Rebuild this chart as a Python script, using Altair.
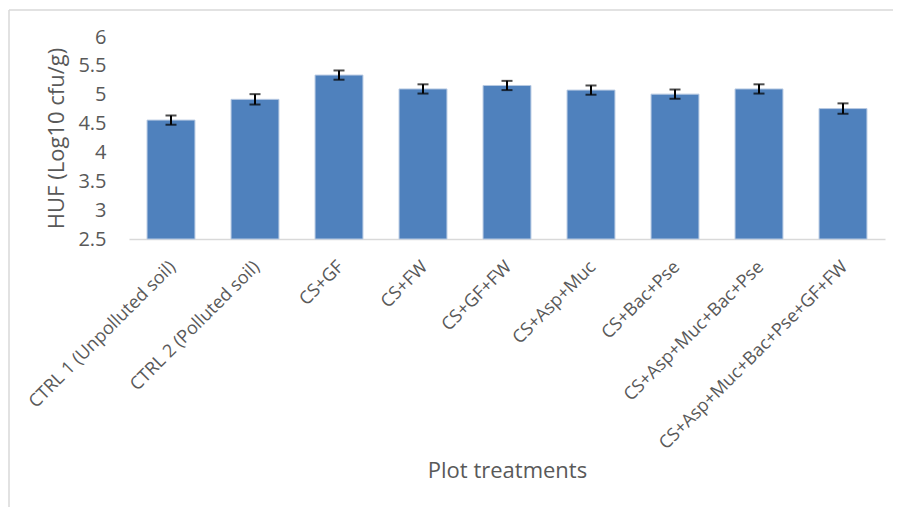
import altair as alt
import pandas as pd

treatments = [
    "CTRL 1 (Unpolluted soil)",
    "CTRL 2 (Polluted soil)",
    "CS+GF",
    "CS+FW",
    "CS+GF+FW",
    "CS+Asp+Muc",
    "CS+Bac+Pse",
    "CS+Asp+Muc+Bac+Pse",
    "CS+Asp+Muc+Bac+Pse+GF+FW",
]
huf = [4.56, 4.92, 5.34, 5.10, 5.16, 5.08, 5.01, 5.10, 4.76]
err = [0.08, 0.09, 0.08, 0.08, 0.08, 0.08, 0.08, 0.08, 0.09]

df = pd.DataFrame({"t": treatments, "v": huf, "e": err})
df["lo"] = df["v"] - df["e"]
df["hi"] = df["v"] + df["e"]

FONT = "Open Sans"
GRAY = "#595959"

x_scale = alt.Scale(paddingInner=0.43, paddingOuter=0.215)
x_axis = alt.Axis(
    title="Plot treatments",
    titleFont=FONT,
    titleFontSize=22,
    titleFontWeight="normal",
    titleColor=GRAY,
    titleBaseline="alphabetic",
    titleY=238,
    labelAngle=-45,
    labelAlign="right",
    labelBaseline="middle",
    labelFont=FONT,
    labelFontSize=18,
    labelColor=GRAY,
    labelPadding=25,
    labelOffset=2,
    labelLimit=400,
    labelOverlap=False,
    ticks=False,
    domainColor="#D9D9D9",
    domainWidth=1.5,
    grid=False,
)
x_enc = alt.X("t:N", sort=treatments, scale=x_scale, axis=x_axis)

y_scale = alt.Scale(domain=[2.5, 6], zero=False, nice=False)
y_axis = alt.Axis(
    title="HUF (Log10 cfu/g)",
    titleFont=FONT,
    titleFontSize=22,
    titleFontWeight="normal",
    titleColor=GRAY,
    titlePadding=9,
    values=[2.5, 3, 3.5, 4, 4.5, 5, 5.5, 6],
    format=".1~f",
    labelFont=FONT,
    labelFontSize=20,
    labelColor=GRAY,
    labelPadding=23,
    labelOverlap=False,
    labelFlush=False,
    labelBound=False,
    ticks=False,
    domain=False,
    grid=False,
)

base = alt.Chart(df)

bars = base.mark_bar(color="#4F81BD", stroke="#B7C9E2", strokeWidth=1).encode(
    x=x_enc,
    y=alt.Y("v:Q", scale=y_scale, axis=y_axis),
    y2=alt.datum(2.5),
)

rules = base.mark_rule(color="black", strokeWidth=2).encode(
    x=x_enc,
    y=alt.Y("lo:Q", scale=y_scale, axis=y_axis),
    y2="hi:Q",
)

cap_lo = base.mark_tick(color="black", thickness=2, size=11, orient="horizontal").encode(
    x=x_enc,
    y=alt.Y("lo:Q", scale=y_scale, axis=y_axis),
)
cap_hi = base.mark_tick(color="black", thickness=2, size=11, orient="horizontal").encode(
    x=x_enc,
    y=alt.Y("hi:Q", scale=y_scale, axis=y_axis),
)

frame_left = alt.Chart(pd.DataFrame({"a": [0]})).mark_rule(color="#D9D9D9", strokeWidth=1.5).encode(
    x=alt.value(-120), y=alt.value(-27), y2=alt.value(500)
)
frame_top = alt.Chart(pd.DataFrame({"a": [0]})).mark_rule(color="#D9D9D9", strokeWidth=1.5).encode(
    x=alt.value(-120), x2=alt.value(800), y=alt.value(-27)
)

chart = (
    alt.layer(frame_left, frame_top, bars, rules, cap_lo, cap_hi)
    .properties(
        width=756,
        height=202,
        autosize=alt.AutoSizeParams(type="none"),
        padding={"left": 121, "top": 29, "right": 8, "bottom": 268},
        background="white",
    )
    .configure_view(stroke=None)
)

chart.save("out.html", embed_options={"renderer": "svg", "actions": False})
